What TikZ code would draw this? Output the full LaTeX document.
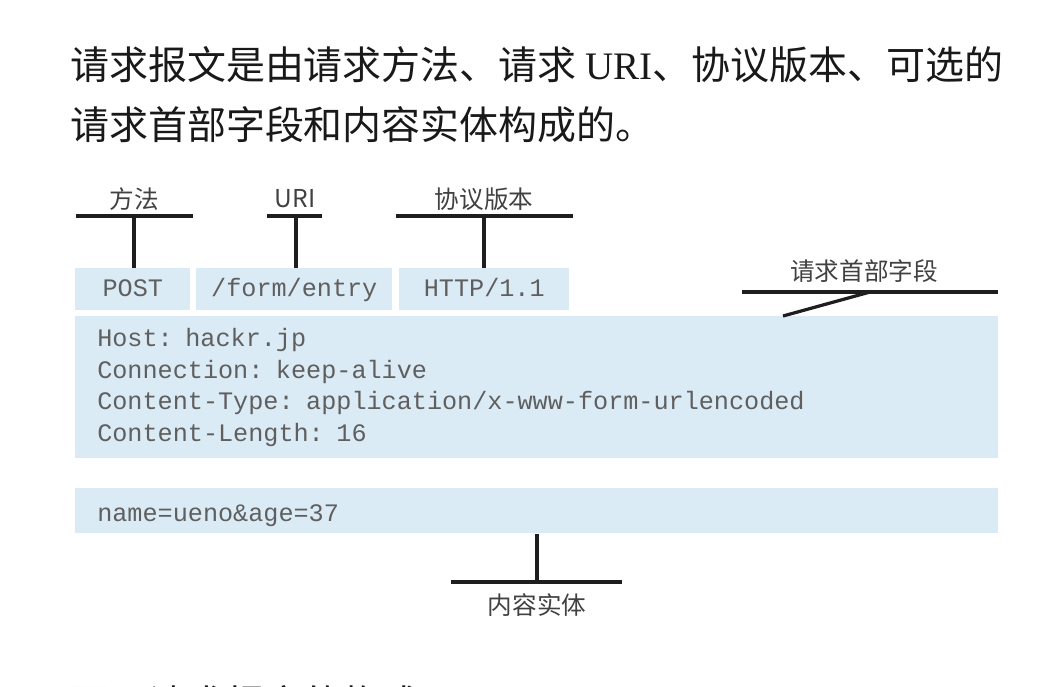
\documentclass[tikz,border=0pt]{standalone}
\usepackage{fontspec}
\setmainfont{Liberation Serif}
\newfontfamily\cjk{Noto Sans CJK SC}
\newfontfamily\urifont{Liberation Serif}
\newfontfamily\monofont{Liberation Mono}
\usetikzlibrary{positioning}
\newcommand{\pxu}{0.025cm}
\definecolor{boxblue}{RGB}{219,235,246}
\definecolor{monogray}{RGB}{95,95,95}
\definecolor{taggray}{RGB}{65,65,65}
\definecolor{barblack}{RGB}{30,30,30}
\definecolor{titleblack}{RGB}{25,25,25}

\begin{document}
\begin{tikzpicture}[x=0.025cm, y=-0.025cm,
  field/.style={fill=boxblue, draw=none, inner sep=0pt, text=monogray,
    font=\monofont\fontsize{17.9}{22.4}\selectfont, anchor=north west},
  reqfield/.style={field, minimum height=42*\pxu, text height=12pt, text depth=1.5pt},
  tag/.style={text=taggray, font=\cjk\fontsize{17.5}{20}\selectfont},
  bar/.style={draw=barblack, line width=2.3pt},
  title/.style={text=titleblack, anchor=west, inner sep=0pt,
    font=\cjk\fontsize{27.7}{33}\selectfont}]

\useasboundingbox (0,0) rectangle (1060,686);

%% TITULO
\node[title] (line1) at (70,65)
{请求报文是由请求方法、请求 {\urifont URI}、协议版本、可选的};
\node[title] (line2) at (70,125)
{请求首部字段和内容实体构成的。};

%% REQUEST LINE
\node[reqfield, minimum width=115*\pxu] (post) at (75,268) {POST};
\node[reqfield, minimum width=196*\pxu] (uri) at (196,268) {/form/entry};
\node[reqfield, minimum width=170*\pxu] (ver) at (399,268) {HTTP/1.1};

% Header fields
\node[field, minimum width=923*\pxu, minimum height=142*\pxu, inner xsep=22*\pxu,
  text width=879*\pxu, align=left] (head) at (75,316)
{Host: hackr.jp\\
Connection: keep-alive\\
Content-Type: application/x-www-form-urlencoded\\
Content-Length: 16};

% Body
\node[field, minimum width=923*\pxu, minimum height=45*\pxu, inner xsep=22*\pxu,
  text width=879*\pxu, align=left, text height=16pt, text depth=1.4pt] (body) at (75,488)
{name=ueno\&age=37};

%% ETIQUETAS
\node[tag] (mtd) at (134,199) {方法};
\coordinate (mtdL) at (76,216);
\coordinate (mtdR) at (193,216);
\coordinate (mtdC) at (134,216);
\draw[bar] (mtdL) -- (mtdR);
\draw[bar] (mtdC) -- (mtdC |- post.north);

\node[tag] (uritag) at (295,199) {URI};
\coordinate (uriL) at (267,216);
\coordinate (uriR) at (322,216);
\coordinate (uriC) at (296,216);
\draw[bar] (uriL) -- (uriR);
\draw[bar] (uriC) -- (uriC |- uri.north);

\node[tag] (vertag) at (484,199) {协议版本};
\coordinate (verL) at (396,216);
\coordinate (verR) at (573,216);
\coordinate (verC) at (484,216);
\draw[bar] (verL) -- (verR);
\draw[bar] (verC) -- (verC |- ver.north);

% Header label
\node[tag] (headtag) at (864,271) {请求首部字段};
\coordinate (headL) at (742,292);
\coordinate (headR) at (998,292);
\coordinate (headC) at (870,292);
\draw[bar] (headL) -- (headR);
\draw[bar] (headC) -- (783,316);

% Body label
\node[tag] (bodytag) at (537,605) {内容实体};
\coordinate (bodyL) at (451,582);
\coordinate (bodyR) at (622,582);
\coordinate (bodyC) at (537,582);
\draw[bar] (bodyL) -- (bodyR);
\draw[bar] (bodyC) -- (bodyC |- body.south);

%% PIE (cortado)
\begin{scope}
\clip (0,0) rectangle (1060,686);
\node[title] (caption) at (70,704) {图　请求报文的构成};
\end{scope}

\end{tikzpicture}
\end{document}
